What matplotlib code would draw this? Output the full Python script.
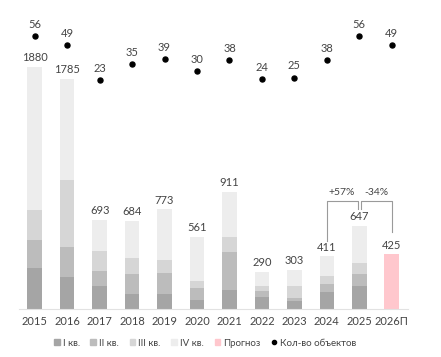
import matplotlib
matplotlib.use('Agg')
import matplotlib.pyplot as plt
import numpy as np
from matplotlib.patches import Patch
from matplotlib.lines import Line2D

plt.rcParams['font.family'] = ['Lato', 'DejaVu Sans']

# ----- data -----
years = ['2015', '2016', '2017', '2018', '2019', '2020', '2021', '2022', '2023', '2024', '2025', '2026П']
q1 = [318, 248, 175, 119, 114, 70, 144, 93, 59, 129, 181]
q2 = [220, 233, 122, 153, 163, 91, 298, 49, 26, 67, 93]
q3 = [227, 517, 150, 122, 103, 57, 113, 33, 95, 62, 83]
q4 = [1115, 787, 246, 290, 393, 343, 356, 115, 123, 153, 290]
totals = [1880, 1785, 693, 684, 773, 561, 911, 290, 303, 411, 647]
forecast = 425
objects = [56, 49, 23, 35, 39, 30, 38, 24, 25, 38, 56, 49]

colors = ['#a5a5a5', '#bcbcbc', '#d6d6d6', '#ededed']
pink = '#ffc7cd'
txt = '#444444'

fig = plt.figure(figsize=(4.41, 3.57), dpi=100)
ax = fig.add_axes([18.5 / 441, 48 / 357, 389.5 / 441, 294 / 357])

x = np.arange(len(years))
xh = x[:-1]
w = 0.45

bottom = np.zeros(len(xh))
for vals, c in zip([q1, q2, q3, q4], colors):
    ax.bar(xh, vals, w, bottom=bottom, color=c, linewidth=0)
    bottom += np.array(vals)
ax.bar(x[-1], forecast, w, color=pink, linewidth=0)

for xi, t in zip(list(xh) + [x[-1]], totals + [forecast]):
    ax.annotate(str(t), (xi, t), xytext=(0, 2.5), textcoords='offset points',
                ha='center', va='bottom', fontsize=8, color=txt)

ax.set_xlim(-0.5, 11.5)
ax.set_ylim(0, 2281)
ax.set_xticks(x)
ax.set_xticklabels(years, fontsize=8, color=txt)
ax.tick_params(axis='x', length=0, pad=5)
ax.set_yticks([])
for s in ['top', 'right', 'left']:
    ax.spines[s].set_visible(False)
ax.spines['bottom'].set_color('#e2e2e2')
ax.spines['bottom'].set_linewidth(0.8)

# brackets
bc = '#9a9a9a'
ax.plot([9, 9, 9.95, 9.95], [530, 840, 840, 776], color=bc, lw=0.8)
ax.plot([10.05, 10.05, 11, 11], [776, 840, 840, 600], color=bc, lw=0.8)
ax.text(9.47, 868, '+57%', ha='center', va='bottom', fontsize=7.5, color=txt)
ax.text(10.52, 868, '-34%', ha='center', va='bottom', fontsize=7.5, color=txt)

# objects count
ax2 = ax.twinx()
ax2.set_ylim(-147.4, 71.7)
ax2.plot(x, objects, 'o', color='black', markersize=3.6, linestyle='none')
for xi, v in zip(x, objects):
    ax2.annotate(str(v), (xi, v), xytext=(0, 4.5), textcoords='offset points',
                 ha='center', va='bottom', fontsize=8, color=txt)
ax2.set_yticks([])
for s in ax2.spines.values():
    s.set_visible(False)

handles = [Patch(color=colors[0]), Patch(color=colors[1]), Patch(color=colors[2]),
           Patch(color=colors[3]), Patch(color=pink),
           Line2D([], [], marker='o', color='black', linestyle='none', markersize=3)]
labels = ['I кв.', 'II кв.', 'III кв.', 'IV кв.', 'Прогноз', 'Кол-во объектов']
fig.legend(handles, labels, loc='center', bbox_to_anchor=(0.465, 1 - 343 / 357), ncol=6,
           frameon=False, fontsize=7, handlelength=0.6, handleheight=0.6,
           handletextpad=0.3, columnspacing=1.1, labelcolor=txt)

fig.savefig('out.png', dpi=100)
